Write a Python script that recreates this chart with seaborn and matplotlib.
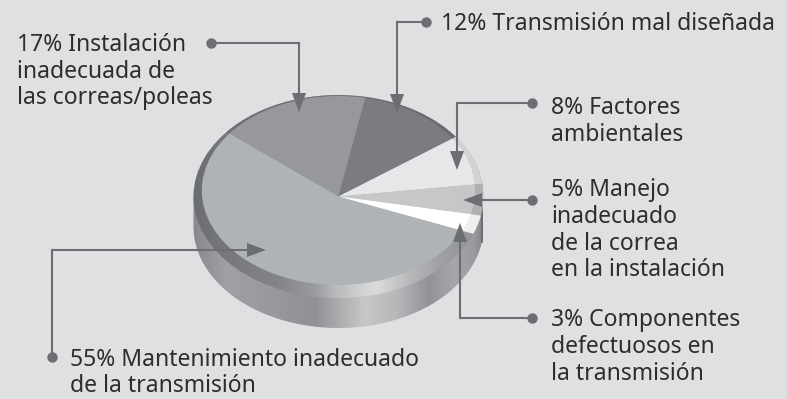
import numpy as np
import matplotlib
matplotlib.use("Agg")
import matplotlib.pyplot as plt
from matplotlib.patches import Ellipse, Polygon
from matplotlib.colors import LinearSegmentedColormap
import seaborn as sns

# --- data -------------------------------------------------------------
shares = [17, 12, 8, 5, 3, 55]
face_colors = ["#97989b", "#7b7c7f", "#e6e7e9", "#c6c7c9", "#ffffff", "#b0b3b5"]
rim_colors = ["#707174", "#6a6b6e", "#d2d3d5", "#aeb0b2", "#eeeeef", "none"]
labels = [
    "17% Instalación\ninadecuada de\nlas correas/poleas",
    "12% Transmisión mal diseñada",
    "8% Factores\nambientales",
    "5% Manejo\ninadecuado\nde la correa\nen la instalación",
    "3% Componentes\ndefectuosos en\nla transmisión",
    "55% Mantenimiento inadecuado\nde la transmisión",
]
label_x = [17, 441, 551, 551, 551, 70]
label_y = [51, 30, 114.5, 196.5, 326.5, 366]
# leader routes: dot -> elbow -> arrow tip
leaders = [
    [(211, 43), (299, 43), (299, 112)],
    [(426, 22), (397, 22), (397, 113)],
    [(532, 103), (457, 103), (457, 170)],
    [(532, 200), (463, 200)],
    [(532, 318), (460, 318), (460, 223)],
    [(52, 357), (52, 250), (266, 250)],
]
rim_x = [193, 215, 280, 315, 335, 360, 377, 410, 440, 483]
rim_g = ["#6c6d70", "#747578", "#85868a", "#9a9b9e", "#b8b9bb", "#cfd0d2", "#dadbdd", "#b8b9bb", "#a0a1a4", "#8e8f92"]
body_x = [193, 225, 280, 315, 345, 365, 395, 430, 455, 475, 483]
body_g = ["#88898c", "#a0a1a4", "#97989b", "#909194", "#b2b3b5", "#c6c7c9", "#b8b9bb", "#929396", "#a6a7aa", "#9a9b9e", "#858689"]

BG, INK, LEAD = "#dfe0e2", "#2d2d2f", "#6d6e71"
W, H = 787, 399
CX, CY, A, B = 338.5, 196.5, 145.0, 101.5
DEPTH = 30

sns.set_theme(style="white")
plt.rcParams["font.family"] = ["Noto Sans", "DejaVu Sans"]
fig = plt.figure(figsize=(W / 100, H / 100), dpi=100, facecolor=BG)

# --- base layer: extruded side and rim, in pixel coordinates ----------
base = fig.add_axes([0, 0, 1, 1], zorder=1)
base.set_xlim(0, W); base.set_ylim(H, 0); base.axis("off")

def gradient(xs, cols, clip):
    cmap = LinearSegmentedColormap.from_list(
        "g", list(zip((np.array(xs) - xs[0]) / (xs[-1] - xs[0]), cols)))
    im = base.imshow(np.linspace(0, 1, 300)[None, :], cmap=cmap, aspect="auto",
                     extent=(xs[0], xs[-1], H, 0), vmin=0, vmax=1)
    clip.set_transform(base.transData)
    im.set_clip_path(clip)

t = np.radians(np.linspace(0, 180, 200))
lower = np.c_[CX + A * np.cos(t), CY + DEPTH + B * np.sin(t)]
side = np.r_[lower, [[CX - A, CY], [CX + A, CY]]]
gradient(body_x, body_g, Polygon(side))
gradient(rim_x, rim_g, Ellipse((CX, CY), 2 * A, 2 * B))
base.set_xlim(0, W); base.set_ylim(H, 0)
base.plot([482, 482], [210, 243], color="#68696c", lw=1.2, solid_capstyle="butt")

# --- pie layer: unit pie stretched to the projected ellipse -----------
pie_ax = fig.add_axes([(CX - A) / W, 1 - (CY + B) / H, 2 * A / W, 2 * B / H], zorder=2)
pie_ax.patch.set_alpha(0)
plain = dict(linewidth=0, edgecolor="none")
rim, _ = pie_ax.pie(shares, colors=rim_colors, startangle=140.4, counterclock=False,
                    radius=1, wedgeprops=plain)
face, _ = pie_ax.pie(shares, colors=face_colors, startangle=140.4, counterclock=False,
                     radius=1, wedgeprops=plain)
pie_ax.set_aspect("auto")
pie_ax.set_xlim(-1, 1); pie_ax.set_ylim(-1, 1)
clip = Ellipse(((338.4 - CX) / A, (CY - 190.5) / B), 2 * 136.6 / A, 2 * 94.5 / B,
               transform=pie_ax.transData)
for w in face:
    w.set_clip_on(True)
    w.set_clip_path(clip)

# --- overlay: labels and leaders --------------------------------------
top = fig.add_axes([0, 0, 1, 1], zorder=3)
top.set_xlim(0, W); top.set_ylim(H, 0); top.axis("off"); top.patch.set_alpha(0)
for text, x, y in zip(labels, label_x, label_y):
    for i, line in enumerate(text.split("\n")):
        top.text(x, y + i * 26.5, line, fontsize=16.5, color=INK, va="baseline", ha="left")
for route in leaders:
    pts = np.array(route, float)
    d = pts[-1] - pts[-2]
    d /= np.hypot(*d)
    neck = pts[-1] - d * 19
    n = np.array([-d[1], d[0]])
    top.plot(*np.r_[pts[:-1], [neck]].T, color=LEAD, lw=1.5, solid_joinstyle="miter")
    top.add_patch(Polygon([pts[-1], neck + n * 7, neck - n * 7], closed=True, color=LEAD, lw=0))
    top.plot(*pts[0], "o", color=LEAD, ms=7.5, mew=0)

fig.savefig("out.png", dpi=100, facecolor=BG)
